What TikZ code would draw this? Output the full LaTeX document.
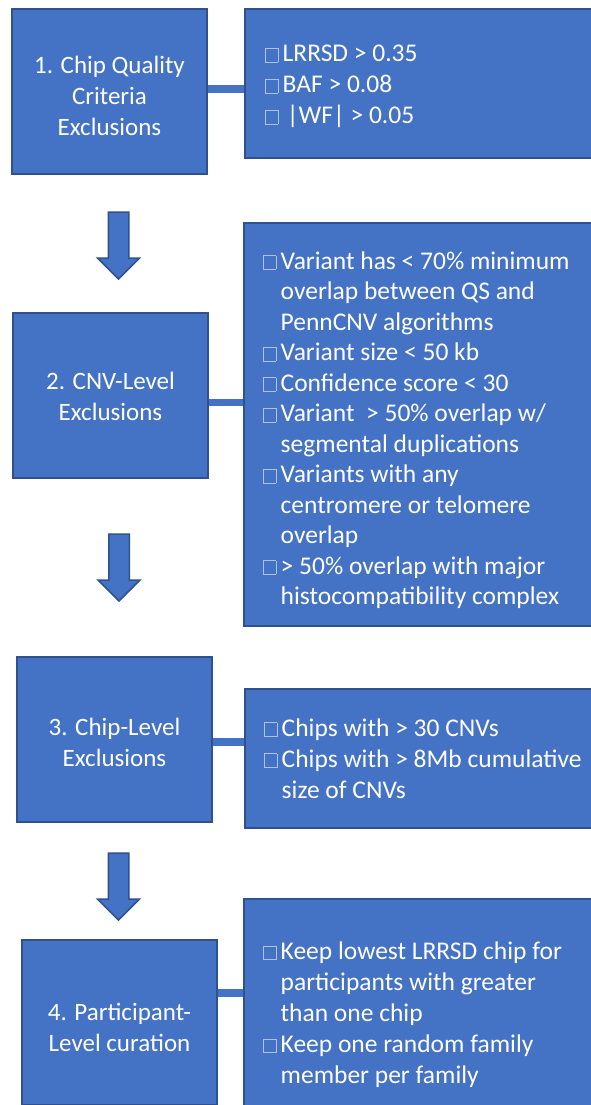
\documentclass[tikz,border=0pt]{standalone}
\usepackage{fontspec}
\setmainfont{Carlito}
\definecolor{boxfill}{HTML}{4472C4}
\definecolor{boxline}{HTML}{2F528F}
\definecolor{bulc}{HTML}{AFC2E6}
% empty square bullet and the matching hanging indent
\newcommand\bulletbox{\makebox[17.5pt][l]{\textcolor{bulc}{\setlength\fboxrule{0.8pt}\setlength\fboxsep{0pt}\fbox{\rule{0pt}{13pt}\hspace{11.5pt}}}}}
\newcommand\contline{\hspace*{17.5pt}}
\tikzset{
  panel/.style={draw=boxline, line width=1.5pt, fill=boxfill, inner sep=0pt},
  stagebox/.style={panel, minimum width=195pt, minimum height=165pt},
  listbox/.style={panel, minimum width=360pt, anchor=west},
  stagetext/.style={text=white, align=center, inner sep=0pt},
  listtext/.style={text=white, align=left, inner sep=0pt, anchor=west,
    font=\fontsize{25.5}{31}\selectfont},
  link/.style={draw=boxfill, line width=7.5pt},
  arrowshape/.style={draw=boxline, line width=1.5pt, fill=boxfill, line join=miter},
  downarrow/.pic={\path[arrowshape] (-10.25,0) -- (10.25,0) -- (10.25,46) -- (21,46)
      -- (0,67) -- (-21,46) -- (-10.25,46) -- cycle;}
}
\begin{document}
\begin{tikzpicture}[x=1pt, y=-1pt, font=\fontsize{25}{31}\selectfont]
\useasboundingbox[fill=white] (0,0) rectangle (590,1105);

% stage boxes
\node[stagebox] (s1) at (109.5,91.5) {};
\node[stagebox] (s2) at (110.5,395.5) {};
\node[stagebox] (s3) at (114.5,739.5) {};
\node[stagebox] (s4) at (119.5,1022.5) {};

% criteria boxes
\node[listbox, minimum height=149pt] (r1) at (244,83.5) {};
\node[listbox, minimum height=403pt] (r2) at (243,424.5) {};
\node[listbox, minimum height=139pt] (r3) at (244,758.5) {};
\node[listbox, minimum height=231pt] (r4) at (243,1014.5) {};

% horizontal links between stage and criteria
\draw[link] (s1.east |- 0,89) -- (r1.west |- 0,89);
\draw[link] (s2.east |- 0,402.5) -- (r2.west |- 0,402.5);
\draw[link] (s3.east |- 0,742) -- (r3.west |- 0,742);
\draw[link] (s4.east |- 0,993) -- (r4.west |- 0,993);

% stage titles
\node[stagetext] (t1) at ([yshift=-4pt]s1.center) {1. Chip Quality\\Criteria\\Exclusions};
\node[stagetext] (t2) at ([yshift=-0.5pt]s2.center) {2. CNV-Level\\Exclusions};
\node[stagetext] (t3) at ([yshift=-3pt]s3.center) {3. Chip-Level\\Exclusions};
\node[stagetext] (t4) at ([yshift=-4.5pt]s4.center) {4. Participant-\\Level curation};

% criteria lists
\node[listtext] (l1) at ([xshift=21pt,yshift=-3pt]r1.west) {%
\bulletbox LRRSD > 0.35\\
\bulletbox BAF > 0.08\\
\bulletbox\,|WF| > 0.05};

\node[listtext, font=\fontsize{25.5}{30.5}\selectfont] (l2) at ([xshift=20pt,yshift=-5.5pt]r2.west) {%
\bulletbox Variant has < 70\% minimum\\
\contline overlap between QS and\\
\contline PennCNV algorithms\\
\bulletbox Variant size < 50 kb\\
\bulletbox Confidence score < 30\\
\bulletbox Variant\ \ > 50\% overlap w/\\
\contline segmental duplications\\
\bulletbox Variants with any\\
\contline centromere or telomere\\
\contline overlap\\
\bulletbox > 50\% overlap with major\\
\contline histocompatibility complex};

\node[listtext] (l3) at ([xshift=20pt]r3.west) {%
\bulletbox Chips with > 30 CNVs\\
\bulletbox Chips with > 8Mb cumulative\\
\contline size of CNVs};

\node[listtext] (l4) at ([xshift=20pt]r4.west) {%
\bulletbox Keep lowest LRRSD chip for\\
\contline participants with greater\\
\contline than one chip\\
\bulletbox Keep one random family\\
\contline member per family};

% block arrows between stages
\pic at (118.5,212) {downarrow};
\pic at (119,534) {downarrow};
\pic at (118.5,853) {downarrow};
\end{tikzpicture}
\end{document}
